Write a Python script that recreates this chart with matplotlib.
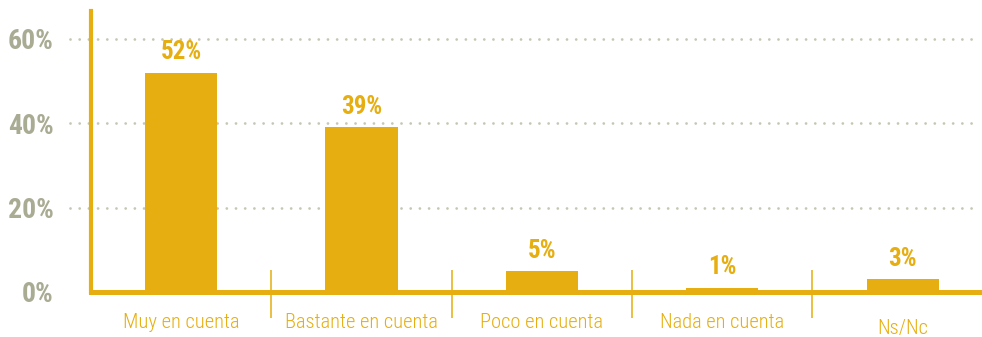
import numpy as np
import matplotlib.pyplot as plt
from matplotlib import transforms

# datos
categorias = ["Muy en cuenta", "Bastante en cuenta", "Poco en cuenta", "Nada en cuenta", "Ns/Nc"]
valores = [52, 39, 5, 1, 3]
ticks_y = [0, 20, 40, 60]

amarillo = "#E6AE10"
gris = "#A9AB93"
punteado = "#C5C7B4"

plt.rcParams['font.family'] = ['Roboto Condensed', 'DejaVu Sans']

fig = plt.figure(figsize=(9.82, 3.37), dpi=100)
ax = fig.add_axes([91 / 982, 45 / 337, 891 / 982, 281 / 337])

x = np.arange(len(categorias))
ax.bar(x, valores, width=0.4, color=amarillo, zorder=3)

ax.set_xlim(-0.5, 4.44)
ax.set_ylim(0, 66.6)

# lineas punteadas de referencia
for v in ticks_y[1:]:
    ax.plot([-0.024, 0.992], [v, v], transform=ax.get_yaxis_transform(),
            color=punteado, lw=2.0, linestyle=(0, (0.01, 3.3)),
            dash_capstyle='round', clip_on=False, zorder=1)

# ejes
for s in ['top', 'right']:
    ax.spines[s].set_visible(False)
ax.spines['left'].set_color(amarillo)
ax.spines['left'].set_linewidth(3.0)
ax.spines['bottom'].set_color(amarillo)
ax.spines['bottom'].set_linewidth(3.6)
ax.spines['bottom'].set_zorder(4)

ax.set_yticks(ticks_y)
ax.set_yticklabels([f"{v}%" for v in ticks_y], fontsize=20, fontweight='bold', color=gris)
ax.tick_params(axis='y', length=0, pad=27)
ax.set_xticks([])

# separadores entre categorias
ax.vlines(x[:-1] + 0.5, -6.2, 5.3, color=amarillo, lw=1.1, clip_on=False, zorder=4)

# etiquetas de categoria
trans = transforms.blended_transform_factory(ax.transData, ax.transAxes)
for xi, lab in zip(x, categorias):
    dy = -0.095 if lab == "Ns/Nc" else -0.073
    ax.text(xi, dy, lab, transform=trans, ha='center', va='top',
            fontsize=14.8, fontweight='light', color=amarillo)

# valores sobre las barras
for xi, v in zip(x, valores):
    ax.annotate(f"{v}%", (xi, v), xytext=(0, 6), textcoords='offset points',
                ha='center', va='bottom', fontsize=18, fontweight='bold',
                color=amarillo)

fig.savefig("out.png", dpi=100)
